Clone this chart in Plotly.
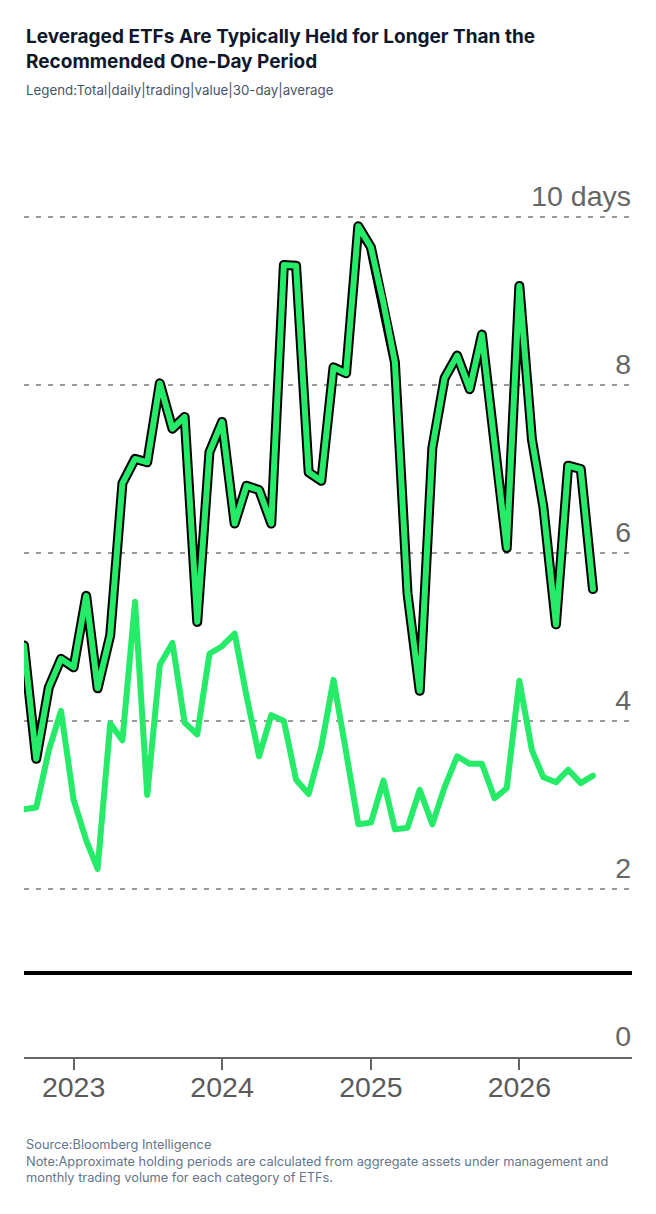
import pandas as pd
import plotly.graph_objects as go

# monthly observations, Sep 2022 - Jul 2026
months = pd.date_range("2022-09-01", periods=47, freq="MS")

# holding period in days (total daily trading value, 30-day average)
outlined_days = [4.9, 3.55, 4.4, 4.74, 4.64, 5.49, 4.39, 5.02, 6.83, 7.12, 7.08, 8.02,
                 7.48, 7.62, 5.18, 7.2, 7.56, 6.35, 6.8, 6.75, 6.35, 9.43, 9.42, 6.96,
                 6.86, 8.21, 8.14, 9.89, 9.64, 8.97, 8.27, 5.52, 4.36, 7.25, 8.08, 8.35,
                 7.95, 8.6, 7.3, 6.06, 9.18, 7.35, 6.55, 5.15, 7.04, 7.0, 5.57]
plain_days = [2.95, 2.97, 3.65, 4.12, 3.06, 2.58, 2.24, 3.97, 3.77, 5.42, 3.12, 4.67,
              4.93, 3.98, 3.84, 4.8, 4.89, 5.04, 4.3, 3.58, 4.07, 4.0, 3.3, 3.13,
              3.69, 4.49, 3.63, 2.77, 2.79, 3.29, 2.71, 2.73, 3.18, 2.77, 3.21, 3.58,
              3.49, 3.49, 3.08, 3.2, 4.48, 3.65, 3.33, 3.27, 3.42, 3.26, 3.35]

one_day = 1  # recommended holding period

year_ticks = ["2023-01-01", "2024-01-01", "2025-01-01", "2026-01-01"]
year_labels = ["2023", "2024", "2025", "2026"]
y_ticks = [0, 2, 4, 6, 8, 10]
y_labels = ["0", "2", "4", "6", "8", "10 days"]

GREEN = "#25EB69"
OFF = 8  # page body margin
W, H = 656 - 2 * OFF, 1214 - 2 * OFF
ML, MR, MT, MB = 24 - OFF, 24 - OFF, 175 - OFF, 157 - OFF
plot_h = H - MT - MB


def py(pix):
    # window pixel row -> paper y
    return (H - MB - (pix - OFF)) / plot_h


fig = go.Figure()

fig.add_trace(go.Scatter(x=months, y=plain_days, mode="lines",
                         line=dict(color=GREEN, width=6), hoverinfo="skip"))
fig.add_trace(go.Scatter(x=months, y=outlined_days, mode="lines",
                         line=dict(color="black", width=10), hoverinfo="skip"))
fig.add_trace(go.Scatter(x=months, y=outlined_days, mode="lines",
                         line=dict(color=GREEN, width=6), hoverinfo="skip"))

fig.add_hline(y=one_day, line=dict(color="black", width=4))

fig.update_layout(
    width=W, height=H,
    margin=dict(l=ML, r=MR, t=MT, b=MB),
    paper_bgcolor="white", plot_bgcolor="white",
    showlegend=False,
    font=dict(family="Liberation Sans, Arial, sans-serif", color="#666666"),
    xaxis=dict(
        type="date", range=["2022-09-01", "2026-10-05"],
        tickvals=year_ticks, ticktext=year_labels,
        showgrid=False, zeroline=False,
        showline=True, linecolor="#666666", linewidth=2,
        ticks="outside", ticklen=11, tickwidth=2, tickcolor="#666666",
        ticklabelstandoff=-7,
        tickfont=dict(size=28.5, color="#5a5a5a"),
    ),
    yaxis=dict(
        range=[0, 10.5], side="right",
        tickvals=y_ticks, ticktext=y_labels,
        ticklabelposition="inside", ticks="", ticklabelshift=-21,
        ticklabelstandoff=-2,
        showgrid=True, gridcolor="#9a9a9a", gridwidth=2, griddash="4.5px,7.5px",
        zeroline=False, showline=False,
        tickfont=dict(size=28.5, color="#666666"),
    ),
)

ann = dict(xref="paper", yref="paper", x=0, xanchor="left", yanchor="middle",
           showarrow=False, align="left")
fig.add_annotation(ann, y=py(49.5),
                   text="<b>Leveraged ETFs Are Typically Held for Longer Than the<br>Recommended One-Day Period</b>",
                   font=dict(family="Inter, sans-serif", size=19, color="#0f172a"))
fig.add_annotation(ann, y=py(90),
                   text="Legend:Total|daily|trading|value|30-day|average",
                   font=dict(family="Inter, sans-serif", size=13.3, color="#475569"))
fig.add_annotation(ann, y=py(1160.5),
                   text="Source:Bloomberg Intelligence<br>Note:Approximate holding periods are calculated from aggregate assets under management and<br>monthly trading volume for each category of ETFs.",
                   font=dict(family="Inter, sans-serif", size=12.8, color="#64748b"))

# rounded line joins like the original
round_joins = "document.querySelectorAll('.scatterlayer path.js-line').forEach(function(p){p.style.strokeLinejoin='round';p.style.strokeLinecap='round';});"

fig.write_html("out.html", post_script=round_joins)
